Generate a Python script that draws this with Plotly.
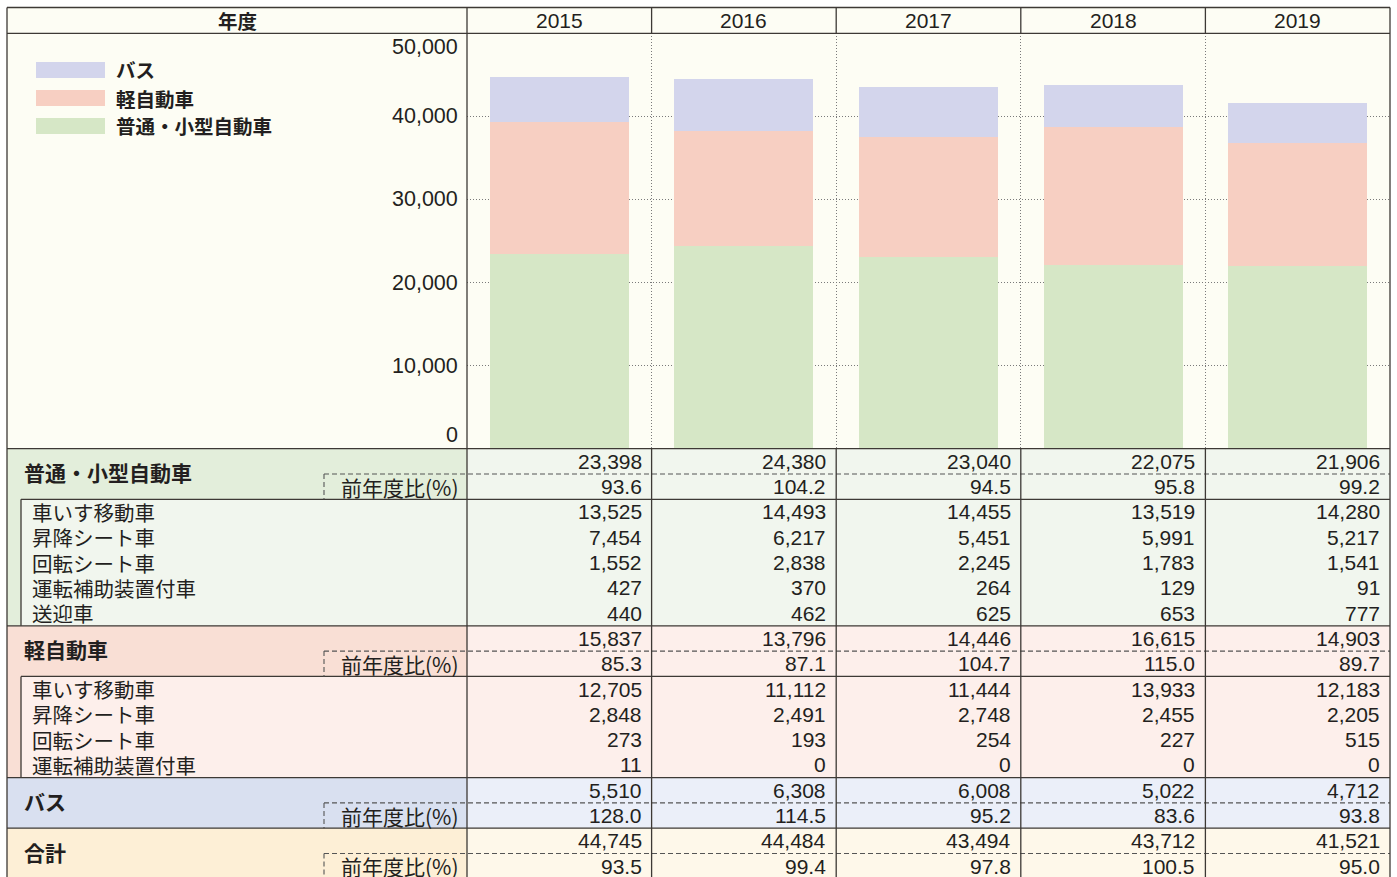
import plotly.graph_objects as go

# ---- data -------------------------------------------------------------
years = ["2015", "2016", "2017", "2018", "2019"]

futsu_total = [23398, 24380, 23040, 22075, 21906]
futsu_yoy = [93.6, 104.2, 94.5, 95.8, 99.2]
futsu_sub_labels = ["車いす移動車", "昇降シート車", "回転シート車", "運転補助装置付車", "送迎車"]
futsu_sub_values = [
    [13525, 14493, 14455, 13519, 14280],
    [7454, 6217, 5451, 5991, 5217],
    [1552, 2838, 2245, 1783, 1541],
    [427, 370, 264, 129, 91],
    [440, 462, 625, 653, 777],
]

kei_total = [15837, 13796, 14446, 16615, 14903]
kei_yoy = [85.3, 87.1, 104.7, 115.0, 89.7]
kei_sub_labels = ["車いす移動車", "昇降シート車", "回転シート車", "運転補助装置付車"]
kei_sub_values = [
    [12705, 11112, 11444, 13933, 12183],
    [2848, 2491, 2748, 2455, 2205],
    [273, 193, 254, 227, 515],
    [11, 0, 0, 0, 0],
]

bus_total = [5510, 6308, 6008, 5022, 4712]
bus_yoy = [128.0, 114.5, 95.2, 83.6, 93.8]

grand_total = [44745, 44484, 43494, 43712, 41521]
grand_yoy = [93.5, 99.4, 97.8, 100.5, 95.0]

y_ticks = [0, 10000, 20000, 30000, 40000, 50000]

# ---- page geometry (pixels) -------------------------------------------
W, H = 1397, 877
LEFT, LABEL_R, RIGHT = 7, 467, 1390
SUB_L, RATIO_L = 21, 324
TOP, HEAD_B, PLOT_B = 7.5, 33.3, 448.7
ROW_H = 25.3
COL_W = (RIGHT - LABEL_R) / len(years)


def fx(px):
    return px / W


def fy(py):
    return 1 - py / H


INK = "#231f20"
LINE = "#3d3935"
JP = "Noto Sans CJK JP"
NUM = "Liberation Sans, Noto Sans CJK JP"
DOTS = "1px,2px"
DASHES = "5px,3px"

C_BUS = "#d3d5ec"
C_KEI = "#f7cfc2"
C_FUTSU = "#d6e7c6"
CREAM = "#fdfdf4"

fig = go.Figure()

# ---- stacked bars ------------------------------------------------------
for name, vals, col in [
    ("普通・小型自動車", futsu_total, C_FUTSU),
    ("軽自動車", kei_total, C_KEI),
    ("バス", bus_total, C_BUS),
]:
    fig.add_trace(go.Bar(x=years, y=vals, name=name, marker=dict(color=col, line=dict(width=0)),
                         width=0.753, showlegend=False, hoverinfo="skip"))

shapes = []
ann = []


def line(x0, y0, x1, y1, xref="paper", yref="paper", color=LINE, width=1.3, dash="solid"):
    shapes.append(dict(type="line", x0=x0, y0=y0, x1=x1, y1=y1, xref=xref, yref=yref,
                       line=dict(color=color, width=width, dash=dash), layer="above"))


def rect(x0, y0, x1, y1, fill, xref="paper", yref="paper"):
    shapes.append(dict(type="rect", x0=x0, y0=y0, x1=x1, y1=y1, xref=xref, yref=yref,
                       fillcolor=fill, line=dict(width=0), layer="below"))


def text(t, x, y, xref="paper", yref="paper", size=20, bold=False, family=JP, xanchor="left", xshift=0, yshift=0):
    s = f"<b>{t}</b>" if bold else t
    ann.append(dict(text=s, x=x, y=y, xref=xref, yref=yref, showarrow=False, xanchor=xanchor,
                    yanchor="middle", xshift=xshift, yshift=yshift,
                    font=dict(family=family, size=size, color=INK)))


# ---- header row + chart background -------------------------------------
rect(fx(LEFT), fy(PLOT_B), fx(RIGHT), fy(TOP), CREAM)
text("年度", fx((LEFT + LABEL_R) / 2), fy(20.5), size=19.5, bold=True, xanchor="center")
for i, yr in enumerate(years):
    text(yr, i, fy(20.5), xref="x2", size=21, family=NUM, xanchor="center")

# y-axis labels (end labels tucked inside the plot band)
for v in y_ticks:
    shift = 13.7 if v == y_ticks[0] else (-13.7 if v == y_ticks[-1] else 0)
    text(f"{v:,}", fx(460), v, yref="y", size=21.5, family=NUM, xanchor="right", yshift=shift)

# legend
for i, (name, col) in enumerate([("バス", C_BUS), ("軽自動車", C_KEI), ("普通・小型自動車", C_FUTSU)]):
    cy = 70 + 28 * i
    shapes.append(dict(type="rect", x0=fx(36), x1=fx(105), y0=fy(cy + 8), y1=fy(cy - 8),
                       xref="paper", yref="paper", fillcolor=col, line=dict(width=0), layer="above"))
    text(name, fx(114), fy(cy), size=19.5, bold=True)

# ---- table -------------------------------------------------------------
sections = [
    dict(title="普通・小型自動車", total=futsu_total, yoy=futsu_yoy,
         labels=futsu_sub_labels, subs=futsu_sub_values,
         head="#e3eedb", data="#f1f6ee"),
    dict(title="軽自動車", total=kei_total, yoy=kei_yoy,
         labels=kei_sub_labels, subs=kei_sub_values,
         head="#f9dfd5", data="#fdefeb"),
    dict(title="バス", total=bus_total, yoy=bus_yoy, labels=[], subs=[],
         head="#d9e0f0", data="#ebeff9"),
    dict(title="合計", total=grand_total, yoy=grand_yoy, labels=[], subs=[],
         head="#fdefd6", data="#fef8ea"),
]

r = 0
for k, sec in enumerate(sections):
    n = 2 + len(sec["labels"])
    r0, r1 = r, r + n
    # cell fills
    rect(fx(LEFT), r0, fx(LABEL_R), r1, sec["head"], yref="y2")
    rect(fx(LABEL_R), r0, fx(RIGHT), r1, sec["data"], yref="y2")
    if sec["labels"]:
        rect(fx(SUB_L), r0 + 2, fx(LABEL_R), r1, sec["data"], yref="y2")
        line(fx(SUB_L), r0 + 2, fx(RIGHT), r0 + 2, yref="y2")
        line(fx(SUB_L), r0 + 2, fx(SUB_L), r1, yref="y2")
    if k > 0:
        line(fx(LEFT), r0, fx(RIGHT), r0, yref="y2")
    # year-on-year separator
    line(fx(RATIO_L), r0 + 1, fx(RIGHT), r0 + 1, yref="y2", color="#555", width=1.1, dash=DASHES)
    line(fx(RATIO_L), r0 + 1, fx(RATIO_L), r0 + 2, yref="y2", color="#555", width=1.1, dash=DASHES)

    text(sec["title"], fx(22), r0 + 1, yref="y2", size=21, bold=True, yshift=2)
    text("前年度比(%)", fx(461), r0 + 1.5, yref="y2", size=21, xanchor="right")
    for i in range(len(years)):
        text(f"{sec['total'][i]:,}", i + 0.5, r0 + 0.5, xref="x2", yref="y2", size=21,
             family=NUM, xanchor="right", xshift=-8)
        text(f"{sec['yoy'][i]:.1f}", i + 0.5, r0 + 1.5, xref="x2", yref="y2", size=21,
             family=NUM, xanchor="right", xshift=-8)
    for j, lab in enumerate(sec["labels"]):
        rr = r0 + 2 + j + 0.5
        text(lab, fx(30), rr, yref="y2", size=20.5)
        for i in range(len(years)):
            text(f"{sec['subs'][j][i]:,}", i + 0.5, rr, xref="x2", yref="y2", size=21,
                 family=NUM, xanchor="right", xshift=-8)
    r = r1

# ---- frame lines ---------------------------------------------------------
line(fx(LEFT), fy(TOP), fx(RIGHT), fy(TOP))
line(fx(LEFT), fy(HEAD_B), fx(RIGHT), fy(HEAD_B))
line(fx(LEFT), fy(PLOT_B), fx(RIGHT), fy(PLOT_B))
line(fx(LEFT), fy(TOP), fx(LEFT), 0)
line(fx(RIGHT), fy(TOP), fx(RIGHT), 0)
line(fx(LABEL_R), fy(TOP), fx(LABEL_R), 0)
for i in range(len(years) - 1):
    xb = fx(LABEL_R + COL_W * (i + 1))
    line(xb, fy(TOP), xb, fy(HEAD_B))
    line(xb, fy(PLOT_B), xb, 0)

n_rows_visible = (H - PLOT_B) / ROW_H

fig.update_layout(
    width=W, height=H,
    margin=dict(l=0, r=0, t=0, b=0),
    paper_bgcolor="white",
    plot_bgcolor="rgba(0,0,0,0)",
    barmode="stack",
    bargap=0,
    shapes=shapes,
    annotations=ann,
    showlegend=False,
    xaxis=dict(domain=[fx(LABEL_R), fx(RIGHT)], type="category", range=[-0.5, 4.5],
               tickson="boundaries", showgrid=True, griddash=DOTS, gridcolor="#7a7a7a",
               gridwidth=1, showticklabels=False, ticks="", showline=False, zeroline=False,
               fixedrange=True),
    yaxis=dict(domain=[fy(PLOT_B), fy(HEAD_B)], range=[0, 50000],
               tickvals=y_ticks[1:-1], showgrid=True, griddash=DOTS, gridcolor="#7a7a7a",
               gridwidth=1, showticklabels=False, ticks="", zeroline=False, showline=False,
               fixedrange=True),
    xaxis2=dict(domain=[fx(LEFT), fx(RIGHT)], range=[-0.5 - (LABEL_R - LEFT) / COL_W, 4.5],
                visible=False, anchor="y2", fixedrange=True),
    yaxis2=dict(domain=[0, fy(PLOT_B)], range=[n_rows_visible, 0], visible=False,
                anchor="x2", fixedrange=True),
)

fig.write_html("out.html")
